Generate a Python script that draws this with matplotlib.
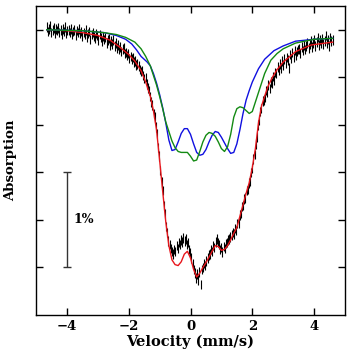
import numpy as np
import matplotlib
matplotlib.use("Agg")
import matplotlib.pyplot as plt

# measured spectrum (relative transmission, %), evenly spaced velocity channels
vel_start, vel_end = -4.65, 4.60
spectrum = [
    0.03, -0.02, 0.01, 0.04, -0.03, 0.00, 0.02, -0.04, 0.01, -0.01,
    0.02, -0.03, 0.00, -0.05, 0.01, -0.02, 0.03, -0.04, -0.01, 0.00,
    -0.03, 0.01, -0.05, -0.02, 0.00, -0.06, -0.01, -0.03, 0.01, -0.04,
    -0.02, -0.07, -0.03, -0.05, 0.00, -0.08, -0.04, -0.02, -0.10, -0.05,
    -0.03, -0.07, -0.09, -0.04, -0.06, -0.11, -0.05, -0.08, -0.12, -0.07,
    -0.10, -0.08, -0.14, -0.11, -0.09, -0.16, -0.12, -0.15, -0.11, -0.17,
    -0.14, -0.19, -0.16, -0.21, -0.18, -0.23, -0.20, -0.19, -0.25, -0.24,
    -0.27, -0.25, -0.30, -0.28, -0.31, -0.29, -0.34, -0.33, -0.37, -0.36,
    -0.38, -0.42, -0.44, -0.43, -0.48, -0.51, -0.50, -0.57, -0.61, -0.64,
    -0.70, -0.76, -0.79, -0.88, -0.92, -1.02, -1.09, -1.24, -1.33, -1.48,
    -1.60, -1.69, -1.85, -1.93, -2.07, -2.13, -2.22, -2.26, -2.30, -2.33,
    -2.36, -2.31, -2.33, -2.27, -2.30, -2.24, -2.26, -2.21, -2.23, -2.19,
    -2.22, -2.20, -2.26, -2.24, -2.31, -2.35, -2.40, -2.46, -2.52, -2.56,
    -2.61, -2.57, -2.63, -2.55, -2.68, -2.52, -2.50, -2.46, -2.48, -2.43,
    -2.40, -2.37, -2.36, -2.31, -2.33, -2.27, -2.29, -2.23, -2.20, -2.24,
    -2.26, -2.31, -2.29, -2.34, -2.28, -2.30, -2.25, -2.24, -2.21, -2.20,
    -2.18, -2.16, -2.13, -2.15, -2.09, -2.11, -2.04, -2.03, -1.95, -1.93,
    -1.86, -1.85, -1.78, -1.77, -1.69, -1.68, -1.61, -1.59, -1.50, -1.46,
    -1.36, -1.31, -1.20, -1.13, -1.00, -0.95, -0.86, -0.83, -0.75, -0.74,
    -0.71, -0.64, -0.66, -0.58, -0.62, -0.55, -0.56, -0.49, -0.53, -0.45,
    -0.46, -0.39, -0.43, -0.36, -0.40, -0.33, -0.37, -0.31, -0.35, -0.29,
    -0.32, -0.40, -0.26, -0.30, -0.24, -0.29, -0.22, -0.27, -0.23, -0.21,
    -0.20, -0.25, -0.18, -0.22, -0.16, -0.21, -0.17, -0.14, -0.19, -0.15,
    -0.12, -0.18, -0.14, -0.10, -0.17, -0.13, -0.08, -0.16, -0.11, -0.14,
    -0.09, -0.15, -0.12, -0.06, -0.14, -0.10, -0.17, -0.08, -0.12, -0.11,
]
spectrum_err = 0.05

# total fit (red)
fit_v = [-4.65, -4.0, -3.5, -3.0, -2.6, -2.3, -2.0, -1.8, -1.6, -1.45, -1.3,
         -1.2, -1.1, -1.0, -0.9, -0.8, -0.7, -0.6, -0.5, -0.4, -0.3, -0.2,
         -0.1, 0.0, 0.1, 0.2, 0.3, 0.4, 0.5, 0.6, 0.7, 0.8, 0.9, 1.0, 1.1,
         1.2, 1.3, 1.4, 1.5, 1.6, 1.7, 1.8, 1.9, 2.0, 2.1, 2.2, 2.3, 2.4,
         2.5, 2.65, 2.8, 3.0, 3.4, 3.9, 4.6]
fit_y = [0.0, -0.01, -0.03, -0.06, -0.11, -0.18, -0.26, -0.33, -0.43, -0.55,
         -0.70, -0.85, -1.05, -1.37, -1.70, -2.02, -2.27, -2.42, -2.47, -2.48,
         -2.44, -2.36, -2.33, -2.40, -2.52, -2.60, -2.56, -2.50, -2.45, -2.39,
         -2.33, -2.27, -2.28, -2.32, -2.31, -2.27, -2.21, -2.14, -2.08, -1.96,
         -1.84, -1.72, -1.61, -1.45, -1.25, -0.98, -0.80, -0.70, -0.60, -0.50,
         -0.42, -0.34, -0.23, -0.16, -0.13]

# model A (blue)
blue_v = [-4.65, -3.5, -2.8, -2.4, -2.1, -1.9, -1.75, -1.6, -1.5, -1.4, -1.3,
          -1.2, -1.1, -1.0, -0.9, -0.8, -0.7, -0.6, -0.5, -0.4, -0.3, -0.2,
          -0.1, 0.0, 0.1, 0.2, 0.3, 0.4, 0.5, 0.6, 0.7, 0.8, 0.9, 1.0, 1.1,
          1.2, 1.3, 1.4, 1.5, 1.6, 1.7, 1.8, 1.9, 2.0, 2.2, 2.4, 2.7, 3.0,
          3.4, 4.0, 4.6]
blue_y = [0.0, -0.01, -0.03, -0.06, -0.10, -0.15, -0.21, -0.28, -0.31, -0.34,
          -0.38, -0.46, -0.56, -0.68, -0.82, -0.98, -1.16, -1.27, -1.26, -1.18,
          -1.09, -1.04, -1.04, -1.10, -1.20, -1.29, -1.32, -1.31, -1.26, -1.18,
          -1.11, -1.07, -1.08, -1.13, -1.19, -1.25, -1.30, -1.29, -1.20, -1.05,
          -0.88, -0.74, -0.64, -0.55, -0.41, -0.31, -0.22, -0.17, -0.12, -0.10,
          -0.09]

# model B (green)
green_v = [-4.65, -3.5, -2.8, -2.4, -2.1, -1.8, -1.6, -1.45, -1.3, -1.2, -1.1,
           -1.0, -0.9, -0.8, -0.7, -0.6, -0.5, -0.4, -0.3, -0.2, -0.1, 0.0,
           0.1, 0.2, 0.3, 0.4, 0.5, 0.6, 0.7, 0.8, 0.9, 1.0, 1.1, 1.2, 1.3,
           1.4, 1.5, 1.6, 1.7, 1.8, 1.9, 2.0, 2.1, 2.2, 2.3, 2.4, 2.6, 2.8,
           3.0, 3.4, 4.0, 4.6]
green_y = [0.0, -0.01, -0.03, -0.05, -0.08, -0.13, -0.20, -0.28, -0.38, -0.48,
           -0.58, -0.70, -0.83, -0.97, -1.07, -1.17, -1.24, -1.28, -1.29, -1.29,
           -1.29, -1.33, -1.38, -1.37, -1.28, -1.18, -1.11, -1.08, -1.09, -1.12,
           -1.18, -1.25, -1.28, -1.23, -1.10, -0.92, -0.83, -0.81, -0.82, -0.85,
           -0.88, -0.86, -0.76, -0.66, -0.56, -0.46, -0.32, -0.25, -0.20, -0.14,
           -0.10, -0.09]

plt.rcParams['font.family'] = 'DejaVu Serif'
plt.rcParams['font.weight'] = 'bold'

fig = plt.figure(figsize=(3.48, 3.55), dpi=100)
ax = fig.add_axes([36 / 348, 40 / 355, 309 / 348, 309 / 355])

vel = np.linspace(vel_start, vel_end, len(spectrum))
ax.errorbar(vel, spectrum, yerr=spectrum_err, fmt='none', ecolor='black',
            elinewidth=0.8, capsize=0)
ax.plot(fit_v, fit_y, color='#e8161c', lw=1.0)
ax.plot(blue_v, blue_y, color='#1010e0', lw=1.0)
ax.plot(green_v, green_y, color='#138a13', lw=1.0)

# 1% scale bar
ax.errorbar([-4.0], [-2.0], yerr=0.5, fmt='none', ecolor='#333333',
            elinewidth=1.0, capsize=3, capthick=1.0)
ax.text(-3.78, -2.0, '1%', fontsize=9, fontweight='bold', va='center')

ax.set_xlim(-5, 5)
ax.set_ylim(-3.0, 0.25)
ax.set_xticks([-4, -2, 0, 2, 4])
ax.set_yticks([0, -0.5, -1.0, -1.5, -2.0, -2.5])
ax.set_yticklabels([])
ax.tick_params(direction='in', length=5, width=1, top=True, right=True,
               labelsize=9.5)
for lab in ax.get_xticklabels():
    lab.set_fontweight('bold')
for sp in ax.spines.values():
    sp.set_linewidth(1.0)

ax.set_xlabel('Velocity (mm/s)', fontsize=10.5, fontweight='bold', labelpad=1)
ax.set_ylabel('Absorption', fontsize=9.5, fontweight='bold', labelpad=10)

fig.savefig('out.png', dpi=100)
